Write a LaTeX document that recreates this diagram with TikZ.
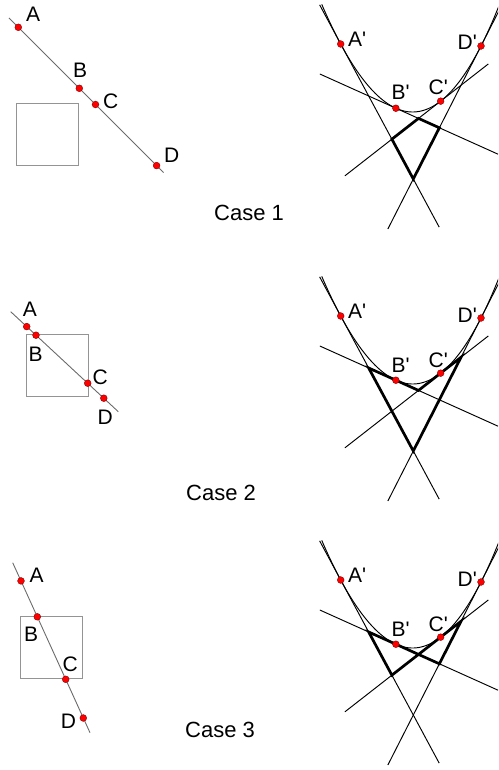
\documentclass[tikz,border=0pt]{standalone}
\usepackage{fontspec}
\newfontfamily\labfont{Liberation Sans}
\usetikzlibrary{calc}
\begin{document}
\begin{tikzpicture}[x=1pt,y=-1pt,
  dot/.style={circle,fill=red,draw=red!50!black,line width=0.4pt,inner sep=0pt,minimum size=6.8pt},
  lbl/.style={anchor=base west,inner sep=0pt,font=\labfont\fontsize{21}{24}\selectfont},
  caselbl/.style={anchor=base west,inner sep=0pt,font=\labfont\fontsize{22}{26}\selectfont},
  guide/.style={draw=black!58,line width=0.9pt},
  sqbox/.style={draw=black!42,line width=0.9pt},
  tline/.style={draw=black,line width=0.95pt},
  quad/.style={draw=black,line width=2.7pt,line join=miter}]
\useasboundingbox (0,0) rectangle (498,770);
\clip (0,0) rectangle (498,770);

\newcommand\conicpanel[2]{%
\begin{scope}[shift={(0,#2)}]
 \coordinate (P0#1) at (340.7,44);
 \coordinate (P1#1) at (413.3,179);
 \coordinate (P2#1) at (481,46);
 \coordinate (IAB#1) at ($(P0#1)!0.385!(P1#1)$);
 \coordinate (IBD#1) at ($(P1#1)!0.385!(P2#1)$);
 \coordinate (IAC#1) at ($(P0#1)!0.705!(P1#1)$);
 \coordinate (ICD#1) at ($(P1#1)!0.705!(P2#1)$);
 \coordinate (Bp#1) at ($(IAB#1)!0.385!(IBD#1)$);
 \coordinate (Cp#1) at ($(IAC#1)!0.705!(ICD#1)$);
 \coordinate (IBC#1) at (intersection of IAB#1--IBD#1 and IAC#1--ICD#1);
 \draw[tline] plot[domain=-0.13:1.14,samples=90,variable=\t]
   ({340.7*(1-(\t))*(1-(\t))+826.6*(\t)*(1-(\t))+481*(\t)*(\t)},{44+270*(\t)-268*(\t)*(\t)});
 \coordinate (TA1#1) at ($(P0#1)!-0.29!(P1#1)$);
 \coordinate (TA2#1) at ($(P0#1)!1.356!(P1#1)$);
 \coordinate (TD1#1) at ($(P1#1)!-0.376!(P2#1)$);
 \coordinate (TD2#1) at ($(P1#1)!1.36!(P2#1)$);
 \coordinate (TB1#1) at ($(IAB#1)!-0.69!(IBD#1)$);
 \coordinate (TB2#1) at ($(IAB#1)!1.83!(IBD#1)$);
 \coordinate (TC1#1) at ($(IAC#1)!-0.68!(ICD#1)$);
 \coordinate (TC2#1) at ($(IAC#1)!1.395!(ICD#1)$);
 \draw[tline] (TA1#1) -- (TA2#1);
 \draw[tline] (TD1#1) -- (TD2#1);
 \draw[tline] (TB1#1) -- (TB2#1);
 \draw[tline] (TC1#1) -- (TC2#1);
\end{scope}}

\newcommand\conicdots[2]{%
\begin{scope}[shift={(0,#2)}]
 \node[dot] (dA#1) at (P0#1) {};
 \node[dot] (dB#1) at (Bp#1) {};
 \node[dot] (dC#1) at (Cp#1) {};
 \node[dot] (dD#1) at (P2#1) {};
 \node[lbl] (lA#1) at (348,46.7) {A'};
 \node[lbl] (lB#1) at (391.5,100) {B'};
 \node[lbl] (lC#1) at (428.5,95) {C'};
 \node[lbl] (lD#1) at (457.5,50) {D'};
\end{scope}}

% ---------- right panels ----------
\conicpanel{a}{0}
\conicpanel{b}{272}
\conicpanel{c}{536}
\draw[quad] (IBCa) -- (IBDa) -- (P1a) -- (IACa) -- cycle;
\draw[quad] (IABb) -- (IBCb) -- (ICDb) -- (P1b) -- cycle;
\draw[quad] (IABc) -- (IBDc) -- (ICDc) -- (IACc) -- cycle;
\conicdots{a}{0}
\conicdots{b}{272}
\conicdots{c}{536}

% ---------- Case 1 left ----------
\draw[sqbox] (16.3,103.3) rectangle (78.7,165);
\coordinate (L1a) at (9,18);
\coordinate (L2a) at (163.5,172.5);
\draw[guide] (L1a) -- (L2a);
\node[dot] (A1) at (18.3,27.3) {};
\node[dot] (B1) at (79.3,88.3) {};
\node[dot] (C1) at (95.5,104.5) {};
\node[dot] (D1) at (156.6,165.6) {};
\node[lbl] at (26,21.7) {A};
\node[lbl] at (73,77.3) {B};
\node[lbl] at (103,108.3) {C};
\node[lbl] at (164,162.7) {D};
\node[caselbl] at (214,220) {Case 1};

% ---------- Case 2 left ----------
\draw[sqbox] (26,334.3) rectangle (88.3,396.7);
\coordinate (L1b) at (10.7,311.7);
\coordinate (L2b) at (118.3,411.7);
\draw[guide] (L1b) -- (L2b);
\node[dot] (A2) at (26.7,326.6) {};
\node[dot] (B2) at (36,335.2) {};
\node[dot] (C2) at (87.7,383.2) {};
\node[dot] (D2) at (103.8,398.2) {};
\node[lbl] at (22.7,316.7) {A};
\node[lbl] at (28.3,361.7) {B};
\node[lbl] at (92.3,384) {C};
\node[lbl] at (97.3,424) {D};
\node[caselbl] at (186,500) {Case 2};

% ---------- Case 3 left ----------
\draw[sqbox] (20.3,616.7) rectangle (82.7,678.7);
\coordinate (L1c) at (12.7,562.7);
\coordinate (L2c) at (90,732.7);
\draw[guide] (L1c) -- (L2c);
\node[dot] (A3) at (21,580.9) {};
\node[dot] (B3) at (37.3,616.8) {};
\node[dot] (C3) at (65.7,679.3) {};
\node[dot] (D3) at (83.3,718) {};
\node[lbl] at (29.3,582.7) {A};
\node[lbl] at (24,641.7) {B};
\node[lbl] at (62.3,671) {C};
\node[lbl] at (60.7,728.3) {D};
\node[caselbl] at (185,737) {Case 3};
\end{tikzpicture}
\end{document}
